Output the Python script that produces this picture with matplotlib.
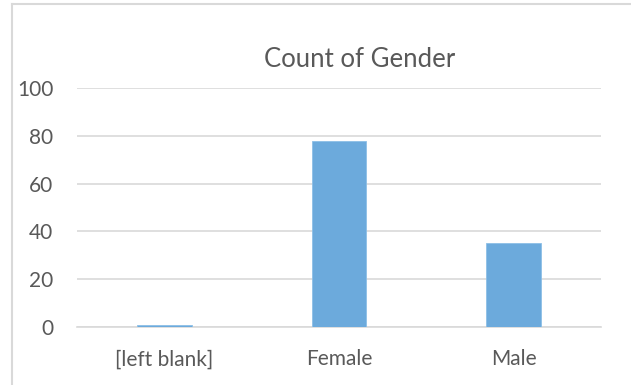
import matplotlib.pyplot as plt
from matplotlib.lines import Line2D

categories = ['[left blank]', 'Female', 'Male']
counts = [1, 78, 35]
yticks = [0, 20, 40, 60, 80, 100]

text_color = '#595959'
grid_color = '#D9D9D9'
bar_color = '#6CAADC'
font = 'Lato'

fig = plt.figure(figsize=(6.31, 3.85), dpi=100)
ax = fig.add_axes([77/631, 1-327/385, 524/631, 239/385])

ax.bar(range(len(categories)), counts, width=0.314, color=bar_color,
       edgecolor='#8DBFE6', linewidth=0.6, zorder=3)

ax.set_ylim(0, 100)
ax.set_xlim(-0.5, len(categories) - 0.5)
ax.set_yticks(yticks)
ax.set_xticks(range(len(categories)))
ax.set_xticklabels(categories)
ax.grid(axis='y', color=grid_color, linewidth=1.2, zorder=0)

for s in ['top', 'right', 'left']:
    ax.spines[s].set_visible(False)
ax.spines['bottom'].set_color(grid_color)
ax.spines['bottom'].set_linewidth(1.2)

ax.tick_params(axis='both', length=0, labelsize=15, colors=text_color)
ax.tick_params(axis='x', pad=16)
ax.tick_params(axis='y', pad=17)
for lbl in ax.get_xticklabels() + ax.get_yticklabels():
    lbl.set_fontfamily(font)

fig.text(360/631, 1-67/385, 'Count of Gender', ha='center', va='baseline',
         fontsize=18.5, color=text_color, fontfamily=font)

# chart frame
fig.add_artist(Line2D([12/631, 12/631], [0, 1-4/385], color='#D9D9D9', linewidth=1.5))
fig.add_artist(Line2D([12/631, 1], [1-4/385, 1-4/385], color='#D9D9D9', linewidth=1.5))

fig.savefig('out.png', dpi=100, facecolor='white')
